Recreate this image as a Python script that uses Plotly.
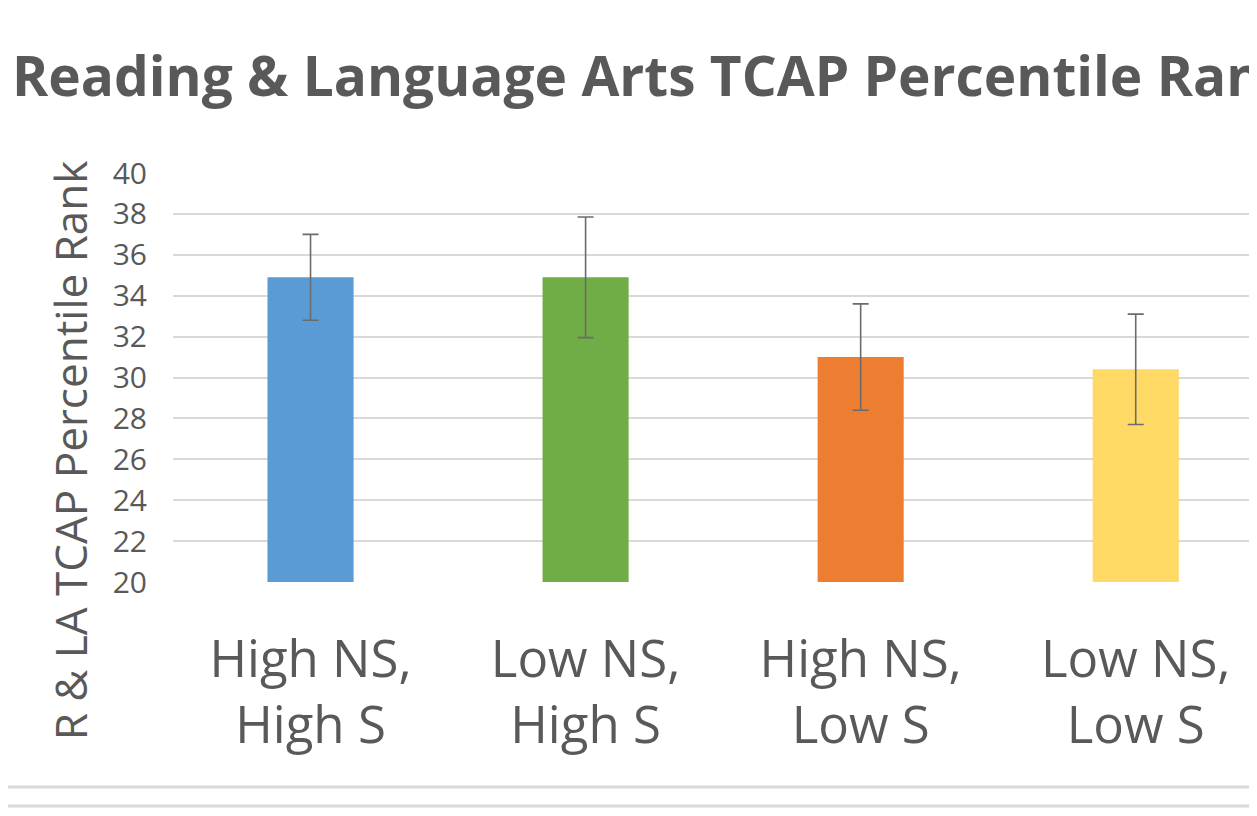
import plotly.graph_objects as go

categories = ["High NS,<br>High S", "Low NS,<br>High S", "High NS,<br>Low S", "Low NS,<br>Low S"]
means = [34.9, 34.9, 31.0, 30.4]
errors = [2.1, 2.95, 2.6, 2.7]
colors = ["#5B9BD5", "#70AD47", "#ED7D31", "#FFD966"]
y_ticks = list(range(20, 41, 2))

grey = "#595959"
W, H = 1257, 816
off = 8  # page body margin
# plot area in window pixels
left, top, bottom = 173, 173, 582

fig = go.Figure()
fig.add_trace(go.Bar(
    x=categories,
    y=means,
    marker=dict(color=colors, line=dict(width=0)),
    width=0.313,
    error_y=dict(type="data", array=errors, visible=True,
                 color="#6b6b6b", thickness=1.6, width=8),
))

plot_h = bottom - top
plot_w = W - left


def py(pix):
    return (bottom - pix) / plot_h


def px(pix):
    return (pix - left) / plot_w


fig.update_layout(
    width=W, height=H,
    margin=dict(l=left - off, r=0, t=top - off, b=H + off - bottom),
    paper_bgcolor="white",
    plot_bgcolor="white",
    showlegend=False,
    font=dict(family="Open Sans", color=grey),
    title=dict(
        text="<b>Reading & Language Arts TCAP Percentile Rank</b>",
        x=(12 - off) / W, xanchor="left", xref="container",
        y=1 - (77 - off) / H, yanchor="middle", yref="container",
        font=dict(size=55, color=grey, family="Open Sans"),
    ),
    xaxis=dict(
        range=[-0.5, 3.47],
        showgrid=False,
        showline=False,
        ticks="",
        tickfont=dict(size=51, color=grey),
        ticklabelstandoff=43,
    ),
    yaxis=dict(
        range=[20, 40],
        tickvals=y_ticks,
        showgrid=True,
        gridcolor="#d9d9d9",
        gridwidth=1.5,
        zeroline=False,
        showline=False,
        ticks="",
        tickfont=dict(size=30, color=grey),
        ticklabelstandoff=25,
    ),
    annotations=[dict(
        text="R & LA TCAP Percentile Rank",
        xref="paper", yref="paper",
        x=px(71), y=py(450),
        xanchor="center", yanchor="middle",
        textangle=-90, showarrow=False,
        font=dict(size=44, color=grey, family="Open Sans"),
    )],
    shapes=[
        dict(type="line", xref="paper", yref="paper",
             x0=px(0), x1=1, y0=py(787), y1=py(787),
             line=dict(color="#d9d9d9", width=3)),
        dict(type="line", xref="paper", yref="paper",
             x0=px(0), x1=1, y0=py(806), y1=py(806),
             line=dict(color="#d9d9d9", width=3)),
    ],
)

fig.write_html("out.html")
